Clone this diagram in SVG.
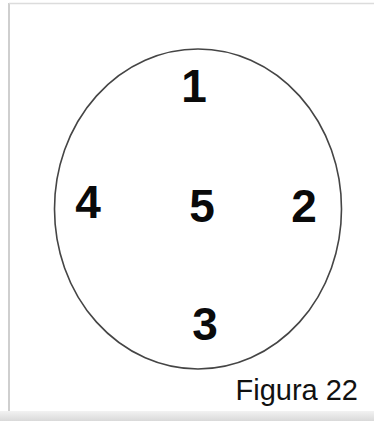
<svg xmlns="http://www.w3.org/2000/svg" width="374" height="421" viewBox="0 0 374 421">
<style>
.d{font-family:"Liberation Sans",Arial,sans-serif;font-weight:bold;font-size:46px;fill:#0a0a0a;text-anchor:middle}
.cap{font-family:"Liberation Sans",Arial,sans-serif;font-size:29px;fill:#111;text-anchor:end}
</style>
<defs>
<linearGradient id="bg" x1="0" y1="0" x2="0" y2="1">
<stop offset="0" stop-color="#f2f2f2"/>
<stop offset="1" stop-color="#d9d9d9"/>
</linearGradient>
</defs>
<rect x="0" y="0" width="374" height="421" fill="#fff"/>
<g id="frame">
<line x1="9" y1="3" x2="9" y2="412" stroke="#cfcfcf" stroke-width="2"/>
<line x1="9" y1="3.5" x2="374" y2="3.5" stroke="#dcdcdc" stroke-width="1.5"/>
<rect x="0" y="411" width="374" height="10" fill="url(#bg)"/>
</g>
<g id="oval">
<ellipse cx="198" cy="209" rx="143.5" ry="160" fill="none" stroke="#454545" stroke-width="1.6"/>
</g>
<g id="n1"><text class="d" x="194" y="102">1</text></g>
<g id="n4"><text class="d" x="88" y="218">4</text></g>
<g id="n5"><text class="d" x="202" y="222">5</text></g>
<g id="n2"><text class="d" x="304" y="222">2</text></g>
<g id="n3"><text class="d" x="205" y="340">3</text></g>
<g id="caption"><text class="cap" x="358" y="400">Figura 22</text></g>
</svg>
